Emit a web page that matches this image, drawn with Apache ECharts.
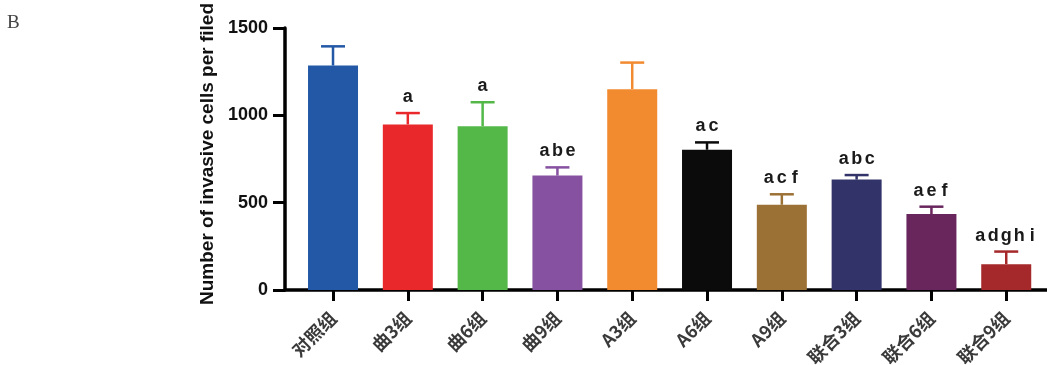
<!DOCTYPE html>
<html>
<head>
<meta charset="utf-8">
<title>Invasive cells per field</title>
<script src="https://cdn.jsdelivr.net/npm/echarts@6/dist/echarts.min.js"></script>
<style>
  html, body { margin: 0; padding: 0; background: #fff; }
  #chart { width: 1047px; height: 365px; }
</style>
</head>
<body>
<div id="chart"></div>
<script>
// Group names along the x axis
const categories = ['对照组', '曲3组', '曲6组', '曲9组', 'A3组', 'A6组', 'A9组', '联合3组', '联合6组', '联合9组'];
// Mean number of invasive cells per field
const means = [1285, 948, 938, 655, 1150, 803, 488, 632, 435, 148];
// Upper error bar length (SD)
const errors = [110, 65, 137, 47, 152, 42, 60, 26, 42, 72];
// Significance letters above each bar
const sigLetters = ['', 'a', 'a', 'abe', '', 'ac', 'acf', 'abc', 'aef', 'adghi'];
// Y axis range and tick step
const yMin = 0;
const yMax = 1500;
const yStep = 500;

const palette = ['#2358a6', '#e8282a', '#53b848', '#8651a0', '#f28a30',
                 '#0b0b0b', '#9c7135', '#323469', '#69265d', '#a5282a'];

const chart = echarts.init(document.getElementById('chart'));

const barData = means.map((v, i) => ({
  value: [i, v],
  itemStyle: { color: palette[i] }
}));
const errData = means.map((v, i) => [i, v, v + errors[i]]);
const catIndex = categories.map((c, i) => i);

chart.setOption({
  animation: false,
  title: {
    text: 'B',
    left: 2,
    top: 9,
    textStyle: { fontFamily: '"Liberation Serif", "DejaVu Serif", serif', fontWeight: 'normal', fontSize: 19, color: '#444' }
  },
  grid: { left: 285, right: 0, top: 28, bottom: 75, containLabel: false, outerBoundsMode: 'none' },
  xAxis: {
    type: 'value',
    min: -0.642,
    max: 9.545,
    splitLine: { show: false },
    axisLine: { show: true, onZero: false, lineStyle: { color: '#000', width: 3.5 } },
    axisTick: {
      show: true, length: 11, inside: false,
      customValues: catIndex,
      lineStyle: { color: '#000', width: 3 }
    },
    axisLabel: {
      show: true,
      customValues: catIndex,
      formatter: v => categories[Math.round(v)] || '',
      rotate: 45,
      margin: 25,
      fontFamily: '"Noto Sans CJK SC", sans-serif',
      fontWeight: 'bold',
      fontSize: 18,
      color: '#3a3a3a'
    }
  },
  yAxis: {
    type: 'value',
    min: yMin,
    max: yMax,
    interval: yStep,
    name: 'Number of invasive cells per filed',
    nameLocation: 'middle',
    nameGap: 68,
    nameTextStyle: {
      fontFamily: '"Liberation Sans", Arial, sans-serif',
      fontWeight: 'bold',
      fontSize: 19,
      color: '#111',
      padding: [0, 0, 0, 10]
    },
    splitLine: { show: false },
    axisLine: { show: true, onZero: false, lineStyle: { color: '#000', width: 3.5 } },
    axisTick: { show: true, inside: false, length: 12, lineStyle: { color: '#000', width: 3 } },
    axisLabel: {
      margin: 17,
      formatter: v => String(v),
      fontFamily: '"Liberation Sans", Arial, sans-serif',
      fontWeight: 'bold',
      fontSize: 18,
      color: '#111'
    }
  },
  series: [
    {
      type: 'bar',
      data: barData,
      barWidth: 50,
      z: 2
    },
    {
      type: 'custom',
      data: errData,
      z: 3,
      encode: { x: 0, y: [1, 2] },
      renderItem: (params, api) => {
        const idx = params.dataIndex;
        const x = api.value(0);
        const base = api.coord([x, api.value(1)]);
        const top = api.coord([x, api.value(2)]);
        const color = palette[idx];
        const half = 12;
        const children = [
          { type: 'line', shape: { x1: base[0], y1: base[1], x2: top[0], y2: top[1] },
            style: { stroke: color, lineWidth: 2.5 } },
          { type: 'line', shape: { x1: top[0] - half, y1: top[1], x2: top[0] + half, y2: top[1] },
            style: { stroke: color, lineWidth: 2.5 } }
        ];
        const letters = sigLetters[idx].split('');
        const step = 13;
        letters.forEach((ch, k) => {
          children.push({
            type: 'text',
            x: top[0] + (k - (letters.length - 1) / 2) * step,
            y: top[1] - 7,
            style: {
              text: ch,
              align: 'center',
              verticalAlign: 'bottom',
              font: 'bold 18px "Liberation Sans", Arial, sans-serif',
              fill: '#1a1a1a'
            }
          });
        });
        return { type: 'group', children };
      }
    }
  ]
});
</script>
</body>
</html>
